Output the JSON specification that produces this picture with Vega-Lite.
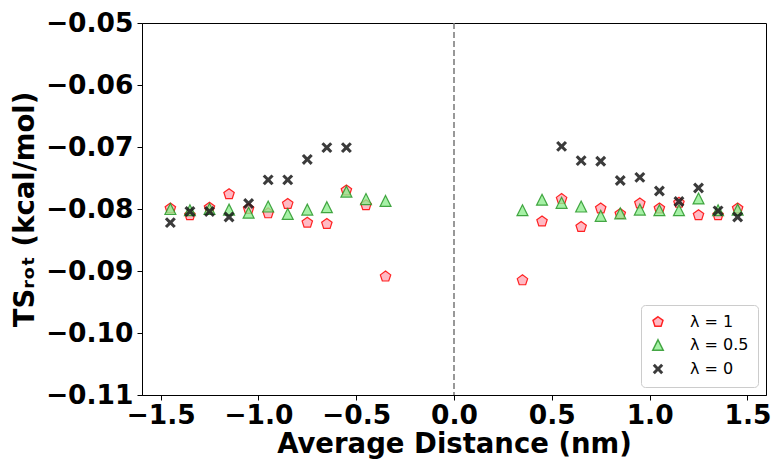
{
  "$schema": "https://vega.github.io/schema/vega-lite/v6.json",
  "autosize": {"type": "none"},
  "padding": {"left": 142, "top": 23, "right": 9, "bottom": 64},
  "width": 624,
  "height": 372,
  "background": "white",
  "config": {
    "view": {"stroke": "black", "strokeWidth": 1},
    "axis": {
      "labelFont": "DejaVu Sans", "labelFontWeight": "bold", "labelFontSize": 26.5, "labelColor": "black",
      "titleFont": "DejaVu Sans", "titleFontWeight": "bold", "titleFontSize": 27.5, "titleColor": "black",
      "tickColor": "black", "tickSize": 5, "domainColor": "black", "grid": false
    },
    "legend": {
      "orient": "bottom-right", "offset": 8, "fillColor": "white", "strokeColor": "#cccccc", "cornerRadius": 4,
      "padding": 9, "labelFont": "DejaVu Sans", "labelFontSize": 16, "labelColor": "black", "labelOffset": 24,
      "symbolSize": 110, "symbolOpacity": 1, "rowPadding": 6, "labelLimit": 200
    }
  },
  "datasets": {
    "pts": [
      {"x": -1.45, "y": -0.0799, "s": "λ = 1"},
      {"x": -1.35, "y": -0.0810, "s": "λ = 1"},
      {"x": -1.25, "y": -0.0798, "s": "λ = 1"},
      {"x": -1.15, "y": -0.0776, "s": "λ = 1"},
      {"x": -1.05, "y": -0.0800, "s": "λ = 1"},
      {"x": -0.95, "y": -0.0807, "s": "λ = 1"},
      {"x": -0.85, "y": -0.0792, "s": "λ = 1"},
      {"x": -0.75, "y": -0.0822, "s": "λ = 1"},
      {"x": -0.65, "y": -0.0824, "s": "λ = 1"},
      {"x": -0.55, "y": -0.0770, "s": "λ = 1"},
      {"x": -0.45, "y": -0.0794, "s": "λ = 1"},
      {"x": -0.35, "y": -0.0909, "s": "λ = 1"},
      {"x": 0.35, "y": -0.0915, "s": "λ = 1"},
      {"x": 0.45, "y": -0.0820, "s": "λ = 1"},
      {"x": 0.55, "y": -0.0784, "s": "λ = 1"},
      {"x": 0.65, "y": -0.0829, "s": "λ = 1"},
      {"x": 0.75, "y": -0.0799, "s": "λ = 1"},
      {"x": 0.85, "y": -0.0808, "s": "λ = 1"},
      {"x": 0.95, "y": -0.0791, "s": "λ = 1"},
      {"x": 1.05, "y": -0.0799, "s": "λ = 1"},
      {"x": 1.15, "y": -0.0790, "s": "λ = 1"},
      {"x": 1.25, "y": -0.0810, "s": "λ = 1"},
      {"x": 1.35, "y": -0.0810, "s": "λ = 1"},
      {"x": 1.45, "y": -0.0799, "s": "λ = 1"},
      {"x": -1.45, "y": -0.0800, "s": "λ = 0.5"},
      {"x": -1.35, "y": -0.0802, "s": "λ = 0.5"},
      {"x": -1.25, "y": -0.0800, "s": "λ = 0.5"},
      {"x": -1.15, "y": -0.0801, "s": "λ = 0.5"},
      {"x": -1.05, "y": -0.0806, "s": "λ = 0.5"},
      {"x": -0.95, "y": -0.0796, "s": "λ = 0.5"},
      {"x": -0.85, "y": -0.0808, "s": "λ = 0.5"},
      {"x": -0.75, "y": -0.0801, "s": "λ = 0.5"},
      {"x": -0.65, "y": -0.0797, "s": "λ = 0.5"},
      {"x": -0.55, "y": -0.0772, "s": "λ = 0.5"},
      {"x": -0.45, "y": -0.0784, "s": "λ = 0.5"},
      {"x": -0.35, "y": -0.0787, "s": "λ = 0.5"},
      {"x": 0.35, "y": -0.0802, "s": "λ = 0.5"},
      {"x": 0.45, "y": -0.0785, "s": "λ = 0.5"},
      {"x": 0.55, "y": -0.0790, "s": "λ = 0.5"},
      {"x": 0.65, "y": -0.0796, "s": "λ = 0.5"},
      {"x": 0.75, "y": -0.0811, "s": "λ = 0.5"},
      {"x": 0.85, "y": -0.0807, "s": "λ = 0.5"},
      {"x": 0.95, "y": -0.0801, "s": "λ = 0.5"},
      {"x": 1.05, "y": -0.0802, "s": "λ = 0.5"},
      {"x": 1.15, "y": -0.0802, "s": "λ = 0.5"},
      {"x": 1.25, "y": -0.0783, "s": "λ = 0.5"},
      {"x": 1.35, "y": -0.0802, "s": "λ = 0.5"},
      {"x": 1.45, "y": -0.0801, "s": "λ = 0.5"},
      {"x": -1.45, "y": -0.0822, "s": "λ = 0"},
      {"x": -1.35, "y": -0.0804, "s": "λ = 0"},
      {"x": -1.25, "y": -0.0804, "s": "λ = 0"},
      {"x": -1.15, "y": -0.0813, "s": "λ = 0"},
      {"x": -1.05, "y": -0.0791, "s": "λ = 0"},
      {"x": -0.95, "y": -0.0753, "s": "λ = 0"},
      {"x": -0.85, "y": -0.0753, "s": "λ = 0"},
      {"x": -0.75, "y": -0.0720, "s": "λ = 0"},
      {"x": -0.65, "y": -0.0701, "s": "λ = 0"},
      {"x": -0.55, "y": -0.0701, "s": "λ = 0"},
      {"x": 0.55, "y": -0.0699, "s": "λ = 0"},
      {"x": 0.65, "y": -0.0722, "s": "λ = 0"},
      {"x": 0.75, "y": -0.0723, "s": "λ = 0"},
      {"x": 0.85, "y": -0.0754, "s": "λ = 0"},
      {"x": 0.95, "y": -0.0749, "s": "λ = 0"},
      {"x": 1.05, "y": -0.0771, "s": "λ = 0"},
      {"x": 1.15, "y": -0.0788, "s": "λ = 0"},
      {"x": 1.25, "y": -0.0766, "s": "λ = 0"},
      {"x": 1.35, "y": -0.0803, "s": "λ = 0"},
      {"x": 1.45, "y": -0.0813, "s": "λ = 0"}
    ],
    "zero": [{"x": 0}]
  },
  "layer": [
    {
      "data": {"name": "zero"},
      "mark": {"type": "rule", "color": "#777777", "strokeWidth": 1.5, "strokeDash": [6, 3]},
      "encoding": {
        "x": {"field": "x", "type": "quantitative", "scale": {"domain": [-1.595, 1.595], "nice": false, "zero": false}}
      }
    },
    {
      "data": {"name": "pts"},
      "mark": {"type": "point", "filled": true, "opacity": 1, "size": 120, "strokeWidth": 1.2},
      "encoding": {
        "x": {
          "field": "x", "type": "quantitative",
          "scale": {"domain": [-1.595, 1.595], "nice": false, "zero": false},
          "axis": {"values": [-1.5, -1.0, -0.5, 0.0, 0.5, 1.0, 1.5], "format": ".1f", "title": "Average Distance (nm)", "labelPadding": 2, "titlePadding": 2}
        },
        "y": {
          "field": "y", "type": "quantitative",
          "scale": {"domain": [-0.11, -0.05], "nice": false, "zero": false},
          "axis": {"values": [-0.11, -0.10, -0.09, -0.08, -0.07, -0.06, -0.05], "format": ".2f", "title": "TSᵣₒₜ (kcal/mol)", "labelPadding": 4, "titlePadding": 6}
        },
        "shape": {
          "field": "s", "type": "nominal",
          "scale": {
            "domain": ["λ = 1", "λ = 0.5", "λ = 0"],
            "range": [
              "M0,-1L0.951,-0.309L0.588,0.809L-0.588,0.809L-0.951,-0.309Z",
              "M0,-1L1,1L-1,1Z",
              "M-0.6,-1L0,-0.4L0.6,-1L1,-0.6L0.4,0L1,0.6L0.6,1L0,0.4L-0.6,1L-1,0.6L-0.4,0L-1,-0.6Z"
            ]
          },
          "legend": {"title": null}
        },
        "fill": {
          "field": "s", "type": "nominal",
          "scale": {"domain": ["λ = 1", "λ = 0.5", "λ = 0"], "range": ["rgba(255,182,193,0.95)", "rgba(144,238,144,0.8)", "rgba(25,25,25,0.85)"]},
          "legend": {"title": null}
        },
        "stroke": {
          "field": "s", "type": "nominal",
          "scale": {"domain": ["λ = 1", "λ = 0.5", "λ = 0"], "range": ["rgba(255,0,0,0.85)", "rgba(40,150,40,0.85)", "rgba(25,25,25,0.0)"]},
          "legend": {"title": null}
        }
      }
    }
  ]
}
